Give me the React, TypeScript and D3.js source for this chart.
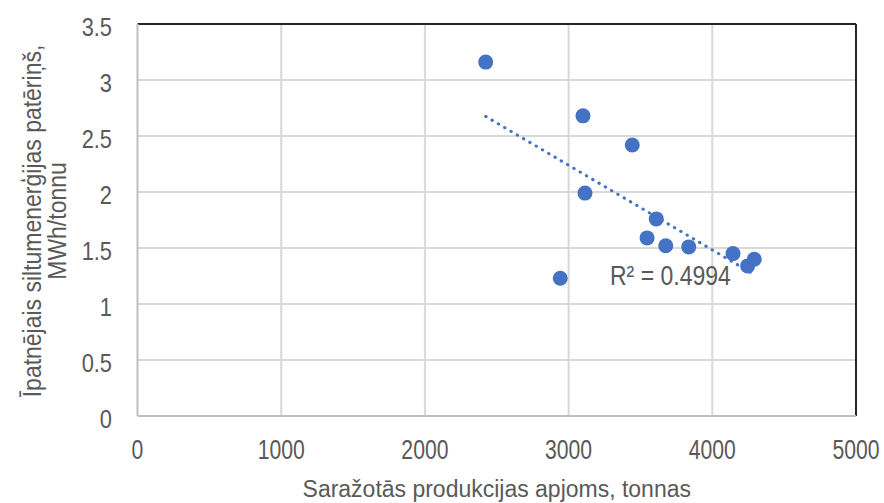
import React from "react";
import * as d3 from "d3";

// Production volume (tonnes) and specific heat consumption (MWh/tonne)
const production = [2423, 3100, 3443, 3114, 3610, 3546, 3676, 3836, 4144, 4292, 4246, 2942];
const heatUse = [3.16, 2.68, 2.42, 1.99, 1.76, 1.59, 1.52, 1.51, 1.45, 1.4, 1.34, 1.23];

const xTicks = [0, 1000, 2000, 3000, 4000, 5000];
const yTicks = [0, 0.5, 1, 1.5, 2, 2.5, 3, 3.5];

const xTitle = "Saražotās produkcijas apjoms, tonnas";
const yTitleLines = ["Īpatnējais siltumenerģijas patēriņš,", "MWh/tonnu"];
const r2Label = "R² = 0.4994";

const W = 884;
const H = 503;
const M = { left: 137.5, right: 856, top: 24, bottom: 416 };
const FONT = "'Liberation Sans', Arial, sans-serif";
const TEXT = "#595959";
const BLUE = "#4472c4";

type STProps = {
  x: number;
  y: number;
  sx?: number;
  sy?: number;
  anchor?: "start" | "middle" | "end";
  size?: number;
  children: React.ReactNode;
};

// Text with a narrower, taller glyph shape (condensed look)
function StretchText({ x, y, sx = 1, sy = 1, anchor = "start", size = 23, children }: STProps) {
  return (
    <text
      transform={`translate(${x},${y}) scale(${sx},${sy})`}
      textAnchor={anchor}
      fontSize={size}
      fill={TEXT}
    >
      {children}
    </text>
  );
}

export default function App() {
  const x = d3.scaleLinear().domain([0, 5000]).range([M.left, M.right]);
  const y = d3.scaleLinear().domain([0, 3.5]).range([M.bottom, M.top]);

  // least-squares linear trend
  const mx = d3.mean(production)!;
  const my = d3.mean(heatUse)!;
  let sxy = 0;
  let sxx = 0;
  production.forEach((v, i) => {
    sxy += (v - mx) * (heatUse[i] - my);
    sxx += (v - mx) * (v - mx);
  });
  const slope = sxy / sxx;
  const intercept = my - slope * mx;
  const [x0, x1] = d3.extent(production) as [number, number];
  const trend = d3
    .line<number>()
    .x((d) => x(d))
    .y((d) => y(intercept + slope * d))([x0, x1]);

  return (
    <svg
      width={W}
      height={H}
      style={{ position: "absolute", left: 0, top: 0, background: "#fff" }}
      fontFamily={FONT}
    >
      {/* gridlines */}
      {yTicks.slice(1).map((t) => (
        <line key={"gy" + t} x1={M.left} x2={M.right} y1={y(t)} y2={y(t)} stroke="#d9d9d9" strokeWidth={2} />
      ))}
      {xTicks.slice(1).map((t) => (
        <line key={"gx" + t} x1={x(t)} x2={x(t)} y1={M.top} y2={M.bottom} stroke="#d9d9d9" strokeWidth={2} />
      ))}

      {/* plot frame: dark top/right, grey axis lines */}
      <line x1={M.left} x2={M.right} y1={M.top} y2={M.top} stroke="#262626" strokeWidth={2} />
      <line x1={M.right} x2={M.right} y1={M.top} y2={M.bottom} stroke="#262626" strokeWidth={2} />
      <line x1={M.left} x2={M.right} y1={M.bottom} y2={M.bottom} stroke="#bfbfbf" strokeWidth={2} />
      <line x1={M.left} x2={M.left} y1={M.top} y2={M.bottom} stroke="#bfbfbf" strokeWidth={2} />

      {/* tick labels */}
      {yTicks.map((t) => (
        <StretchText key={"ty" + t} x={112} y={y(t) + 12} anchor="end" sx={0.95} sy={1.15}>
          {t}
        </StretchText>
      ))}
      {xTicks.map((t) => (
        <StretchText key={"tx" + t} x={x(t)} y={459} anchor="middle" sx={0.92} sy={1.22}>
          {t}
        </StretchText>
      ))}

      {/* axis titles */}
      <StretchText x={(M.left + M.right) / 2} y={497} anchor="middle" sy={1.08}>
        {xTitle}
      </StretchText>
      <g transform={`translate(0, ${(M.top + M.bottom) / 2 + 1}) rotate(-90)`}>
        <StretchText x={0} y={41} anchor="middle" sy={1.15}>
          {yTitleLines[0]}
        </StretchText>
        <StretchText x={0} y={66} anchor="middle" sy={1.15}>
          {yTitleLines[1]}
        </StretchText>
      </g>

      {/* points */}
      {production.map((v, i) => (
        <circle key={"p" + i} cx={x(v)} cy={y(heatUse[i])} r={7.5} fill={BLUE} />
      ))}

      {/* dotted linear trendline */}
      <path
        d={trend ?? ""}
        fill="none"
        stroke={BLUE}
        strokeWidth={3}
        strokeLinecap="round"
        strokeDasharray="0.5 6.8"
      />

      <StretchText x={610} y={285} sy={1.2}>
        {r2Label}
      </StretchText>
    </svg>
  );
}
